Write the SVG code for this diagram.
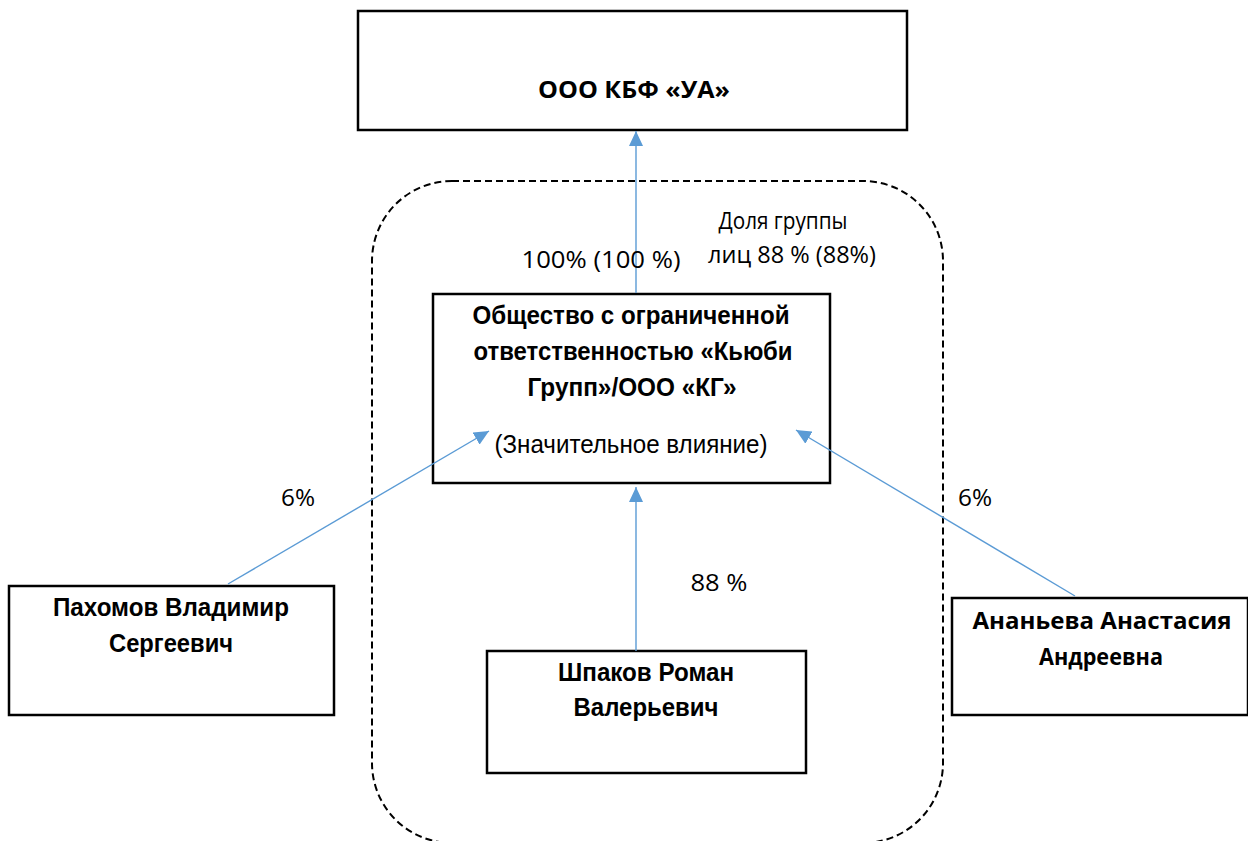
<svg xmlns="http://www.w3.org/2000/svg" width="1248" height="841" viewBox="0 0 1248 841">
<style>
.box{fill:#fff;stroke:#000;stroke-width:2.5}
.group{fill:none;stroke:#000;stroke-width:2;stroke-dasharray:7 4}
.conn{stroke:#5B9BD5;stroke-width:1.4;fill:none}
.cb{font-family:"Open Sans","Noto Sans",sans-serif;font-weight:bold;font-size:23px;fill:#000;text-anchor:middle}
.cr{font-family:"Open Sans","Noto Sans",sans-serif;font-size:23px;fill:#000;text-anchor:middle}
.ab{font-family:"Liberation Sans",Arial,sans-serif;font-weight:bold;font-size:26px;fill:#000;text-anchor:middle}
.ar{font-family:"Liberation Sans",Arial,sans-serif;font-size:26px;fill:#000;text-anchor:middle}
</style>
<defs>
<marker id="arr" markerUnits="userSpaceOnUse" markerWidth="16" markerHeight="14" refX="15" refY="7" orient="auto">
<path d="M0,0 L15,7 L0,14 z" fill="#5B9BD5"/>
</marker>
</defs>
<rect width="1248" height="841" fill="#fff"/>
<g id="group-boundary">
<rect class="group" x="372" y="181" width="571" height="662" rx="80" ry="80"/>
</g>
<g id="node-kbf">
<rect class="box" x="358" y="11" width="549" height="119"/>
<text class="cb" x="634" y="98" textLength="192" lengthAdjust="spacingAndGlyphs">ООО КБФ «УА»</text>
</g>
<g id="node-kg">
<rect class="box" x="433" y="294" width="397" height="189"/>
<text class="ab" x="631" y="324" textLength="317" lengthAdjust="spacingAndGlyphs">Общество с ограниченной</text>
<text class="ab" x="633" y="360" textLength="319" lengthAdjust="spacingAndGlyphs">ответственностью «Кьюби</text>
<text class="ab" x="632" y="396" textLength="209" lengthAdjust="spacingAndGlyphs">Групп»/ООО «КГ»</text>
<text class="ar" x="631" y="453" textLength="273" lengthAdjust="spacingAndGlyphs">(Значительное влияние)</text>
</g>
<g id="node-pakhomov">
<rect class="box" x="9" y="586" width="325" height="129"/>
<text class="ab" x="171" y="616" textLength="236" lengthAdjust="spacingAndGlyphs">Пахомов Владимир</text>
<text class="ab" x="171" y="652" textLength="124" lengthAdjust="spacingAndGlyphs">Сергеевич</text>
</g>
<g id="node-shpakov">
<rect class="box" x="487" y="651" width="319" height="122"/>
<text class="ab" x="646" y="681" textLength="176" lengthAdjust="spacingAndGlyphs">Шпаков Роман</text>
<text class="ab" x="646" y="716" textLength="145" lengthAdjust="spacingAndGlyphs">Валерьевич</text>
</g>
<g id="node-ananyeva">
<rect class="box" x="952" y="598" width="296" height="117"/>
<text class="cb" x="1102" y="629" textLength="259" lengthAdjust="spacingAndGlyphs">Ананьева Анастасия</text>
<text class="cb" x="1101" y="665" textLength="124" lengthAdjust="spacingAndGlyphs">Андреевна</text>
</g>
<g id="connectors">
<line class="conn" x1="636" y1="293" x2="636" y2="131" marker-end="url(#arr)"/>
<line class="conn" x1="228" y1="584" x2="489" y2="431" marker-end="url(#arr)"/>
<line class="conn" x1="1075" y1="596" x2="796" y2="430" marker-end="url(#arr)"/>
<line class="conn" x1="636" y1="651" x2="636" y2="487" marker-end="url(#arr)"/>
</g>
<g id="labels">
<text class="cr" x="601" y="268" textLength="159" lengthAdjust="spacingAndGlyphs">100% (100 %)</text>
<text class="cr" x="783" y="229" textLength="129" lengthAdjust="spacingAndGlyphs">Доля группы</text>
<text class="cr" x="792" y="263" textLength="168" lengthAdjust="spacingAndGlyphs">лиц 88 % (88%)</text>
<text class="cr" x="298" y="506" textLength="34" lengthAdjust="spacingAndGlyphs">6%</text>
<text class="cr" x="975" y="506" textLength="34" lengthAdjust="spacingAndGlyphs">6%</text>
<text class="cr" x="719" y="591" textLength="57" lengthAdjust="spacingAndGlyphs">88 %</text>
</g>
</svg>
